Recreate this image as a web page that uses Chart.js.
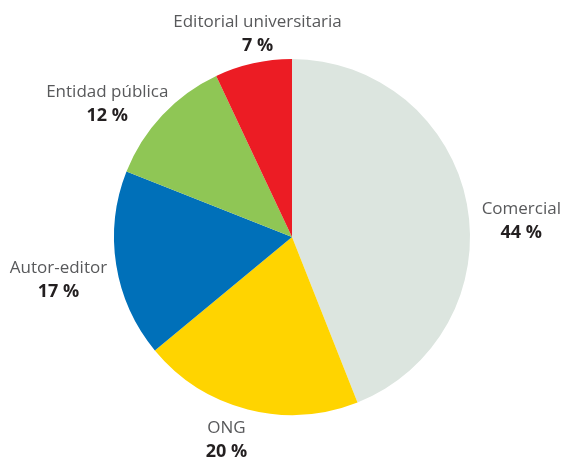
<!DOCTYPE html>
<html>
<head>
<meta charset="utf-8">
<script src="https://cdn.jsdelivr.net/npm/chart.js@4.4.0/dist/chart.umd.min.js"></script>
<style>
  html, body { margin: 0; padding: 0; background: #fff; }
  .wrap { position: relative; width: 562px; height: 460px; }
</style>
</head>
<body>
<div class="wrap"><canvas id="pie" width="562" height="460"></canvas></div>
<script>
const categories = ['Comercial', 'ONG', 'Autor-editor', 'Entidad pública', 'Editorial universitaria'];
const shares = [44, 20, 17, 12, 7];
const sliceColors = ['#dce5df', '#ffd400', '#0070b9', '#8fc655', '#ec1c24'];

// label nudges (px) from the point 1.3 r out along each slice's mid angle
const labelNudge = [[2, 26], [-8, -22], [-5, 6], [-16, 24], [16, 22]];

const outsideLabels = {
  id: 'outsideLabels',
  afterDraw(chart) {
    const ctx = chart.ctx;
    const arcs = chart.getDatasetMeta(0).data;
    ctx.save();
    ctx.textAlign = 'center';
    ctx.textBaseline = 'alphabetic';
    arcs.forEach((arc, i) => {
      const { x, y, startAngle, endAngle, outerRadius } = arc.getProps(['x', 'y', 'startAngle', 'endAngle', 'outerRadius'], true);
      const mid = (startAngle + endAngle) / 2;
      const cx = x + Math.cos(mid) * outerRadius * 1.3 + labelNudge[i][0];
      const cy = y + Math.sin(mid) * outerRadius * 1.3 + labelNudge[i][1];
      ctx.fillStyle = '#58595b';
      ctx.font = '17px "Open Sans", sans-serif';
      ctx.fillText(categories[i], cx, cy - 6);
      ctx.fillStyle = '#231f20';
      ctx.font = 'bold 18px "Open Sans", sans-serif';
      ctx.fillText(shares[i] + ' %', cx, cy + 18);
    });
    ctx.restore();
  }
};

new Chart(document.getElementById('pie'), {
  type: 'pie',
  data: {
    labels: categories,
    datasets: [{
      data: shares,
      backgroundColor: sliceColors,
      borderWidth: 0,
    }],
  },
  options: {
    responsive: false,
    animation: false,
    rotation: 0,
    layout: { padding: { left: 114, right: 92, top: 59, bottom: 45 } },
    plugins: {
      legend: { display: false },
      tooltip: { enabled: false },
    },
  },
  plugins: [outsideLabels],
});
</script>
</body>
</html>
